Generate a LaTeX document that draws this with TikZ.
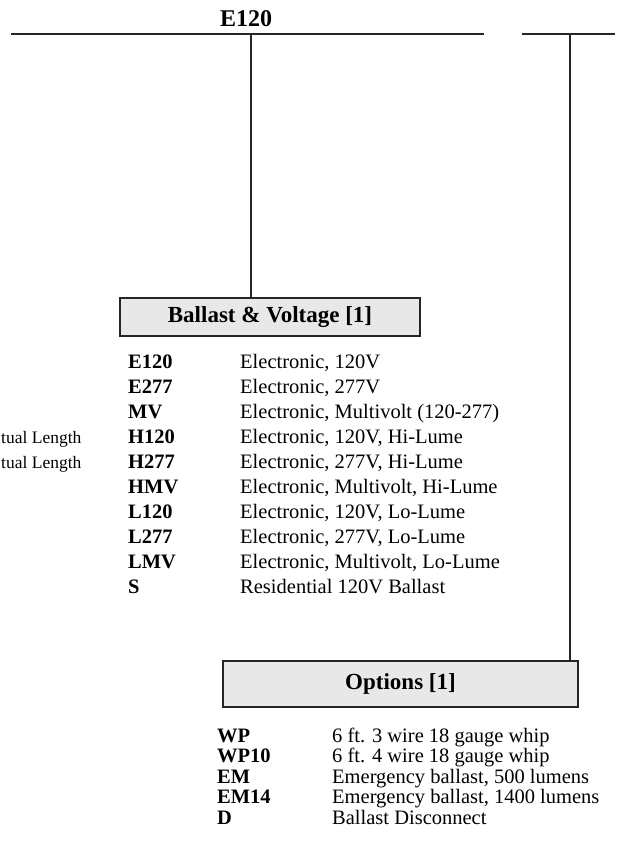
\documentclass[tikz,border=0pt]{standalone}
\usepackage{fontspec}
\setmainfont{Liberation Serif}
\usetikzlibrary{positioning, calc}
\newcommand{\branchD}[2]
{
	\draw (#1) -- (#1 |- #2.north)
}

\begin{document}
\begin{tikzpicture}[x=1pt, y=-1pt,
			rail/.style={line width=2pt, draw=black!85},
			head/.style={shape=rectangle,
				draw=black!85, line width=2pt,
				fill=black!9,
				inner sep=0,
				font=\fontsize{23}{26}\selectfont\bfseries},
			code/.style={anchor=base west, inner sep=0,
				font=\fontsize{20.5}{22}\selectfont\bfseries},
			desc/.style={anchor=base west, inner sep=0,
				font=\fontsize{20.5}{22}\selectfont}]
			
			\useasboundingbox (0,0) rectangle (621,842);
			
			\node[inner sep=0, font=\fontsize{24}{26}\selectfont\bfseries, anchor=base] at (246,27) (title){E120};
			
			\coordinate (L0) at (11,34);
			\coordinate (L1) at (484,34);
			\coordinate (R0) at (522,34);
			\coordinate (R1) at (615,34);
			\coordinate (LB) at (251,34);
			\coordinate (RB) at (570,34);
			\draw[rail] (L0) -- (L1);
			\draw[rail] (R0) -- (R1);
			
			\node[head, minimum width=300pt, minimum height=38pt] at (270,317) (ballast){Ballast \& Voltage [1]};
			\node[head, minimum width=355pt, minimum height=46pt] at (400.5,684) (options){Options [1]};
			
			\branchD{LB}{ballast}[rail];
			\branchD{RB}{options}[rail];
			
			% ballast and voltage codes
			\foreach \c/\d [count=\i from 0] in {E120/{Electronic, 120V}, E277/{Electronic, 277V},
				MV/{Electronic, Multivolt (120-277)}, H120/{Electronic, 120V, Hi-Lume},
				H277/{Electronic, 277V, Hi-Lume}, HMV/{Electronic, Multivolt, Hi-Lume},
				L120/{Electronic, 120V, Lo-Lume}, L277/{Electronic, 277V, Lo-Lume},
				LMV/{Electronic, Multivolt, Lo-Lume}, S/{Residential 120V Ballast}}
			{
				\node[code] at (128,{368+25*\i}) (bc\i){\c};
				\node[desc] at (240,{368+25*\i}) (bd\i){\d};
			}
			
			\node[desc, font=\fontsize{17.5}{20}\selectfont] at (1,443) (len1){tual Length};
			\node[desc, font=\fontsize{17.5}{20}\selectfont] at (1,468) (len2){tual Length};
			
			% options
			\foreach \c/\d [count=\i from 0] in {WP/{6 ft. 3 wire 18 gauge whip}, WP10/{6 ft. 4 wire 18 gauge whip},
				EM/{Emergency ballast, 500 lumens}, EM14/{Emergency ballast, 1400 lumens},
				D/{Ballast Disconnect}}
			{
				\node[code] at (217,{742+20.5*\i}) (oc\i){\c};
				\node[desc] at (332,{742+20.5*\i}) (od\i){\d};
			}
		\end{tikzpicture}
\end{document}
